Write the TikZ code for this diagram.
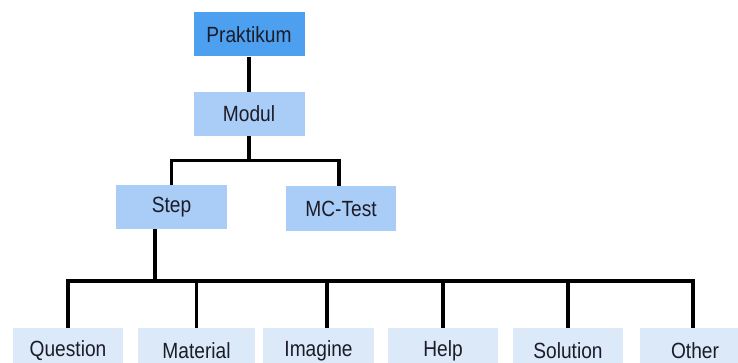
\documentclass[tikz,border=0pt]{standalone}
\usepackage{fontspec}
\setmainfont{Liberation Sans}[FakeStretch=0.87]
\definecolor{topblue}{HTML}{4CA0EF}
\definecolor{midblue}{HTML}{A9CDF6}
\definecolor{lowblue}{HTML}{DCE9F9}
\definecolor{ink}{HTML}{1C1C28}

\begin{document}
\begin{tikzpicture}[x=1pt,y=-1pt,
        box/.style={inner sep=0pt,minimum width=111pt,minimum height=44pt,
            text=ink,font=\fontsize{22}{26}\selectfont},
        tree/.style={line width=3.6pt,black}]
                \useasboundingbox (0,0) rectangle (738,363);
                \node[box,fill=topblue] (praktikum) at (249,34.5) {Praktikum};
                \node[box,fill=midblue] (modul) at (249,114) {Modul};
                \node[box,fill=midblue] (step) at (171.5,207) {Step};
                \node[box,fill=midblue,minimum width=110pt,minimum height=45pt] (mctest) at (341,208.5) {MC-Test};
                % bottom row
                \node[box,fill=lowblue,minimum width=110pt,minimum height=46pt] (question) at (68,351) {Question};
                \node[box,fill=lowblue,minimum width=117pt,minimum height=46pt] (material) at (196.5,351) {Material};
                \node[box,fill=lowblue,minimum width=111pt,minimum height=46pt] (imagine) at (318.5,351) {Imagine};
                \node[box,fill=lowblue,minimum width=110pt,minimum height=46pt] (help) at (443,351) {Help};
                \node[box,fill=lowblue,minimum width=110pt,minimum height=46pt] (solution) at (568,351) {Solution};
                \node[box,fill=lowblue,minimum width=111pt,minimum height=46pt] (other) at (695,351) {Other};
                % connectors
                \coordinate (busA) at (249,160.5);
                \coordinate (busB) at (155,281);
                \draw[tree] (praktikum) -- (modul);
                \draw[tree] (modul) -- (busA);
                \draw[tree] (step.north) |- (busA) -| ([xshift=-2pt]mctest.north);
                \draw[tree] (step.south -| busB) -- (busB);
                \draw[tree] (question.north) |- (busB) -| ([xshift=-2pt]other.north);
                \draw[tree] (material.north) -- (material.north |- busB);
                \draw[tree] ([xshift=8.5pt]imagine.north) -- ([xshift=8.5pt]imagine.north |- busB);
                \draw[tree] (help.north) -- (help.north |- busB);
                \draw[tree] (solution.north) -- (solution.north |- busB);
            \end{tikzpicture}
\end{document}
